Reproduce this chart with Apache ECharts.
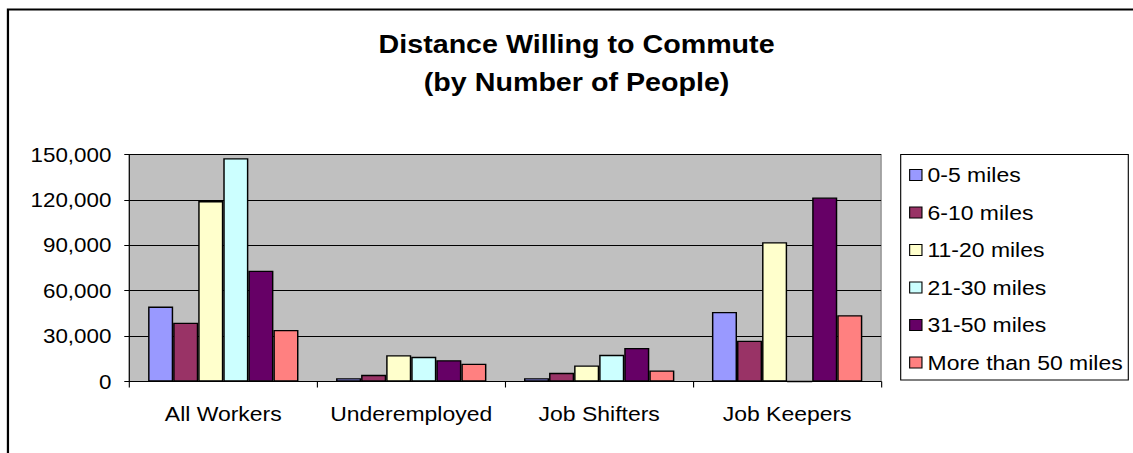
<!DOCTYPE html>
<html>
<head>
<meta charset="utf-8">
<script src="https://cdn.jsdelivr.net/npm/echarts@6/dist/echarts.min.js"></script>
<style>
  html, body { margin: 0; padding: 0; background: #fff; overflow: hidden; }
  #wrap { width: 1133px; height: 453px; overflow: hidden; }
  /* the chart is laid out on a narrower canvas and widened, giving the wide lettering */
  #chart { width: 1012px; height: 453px; transform: scaleX(1.11957); transform-origin: 0 0; }
</style>
</head>
<body>
<div id="wrap"><div id="chart"></div></div>
<script>
// Commuting distance people would accept, by worker group
const categories = ['All Workers', 'Underemployed', 'Job Shifters', 'Job Keepers'];
const seriesNames = ['0-5 miles', '6-10 miles', '11-20 miles', '21-30 miles', '31-50 miles', 'More than 50 miles'];
const miles0to5   = [49500, 2200, 2200, 46000];
const miles6to10  = [38900, 4400, 5700, 27000];
const miles11to20 = [119200, 17400, 10600, 92000];
const miles21to30 = [147600, 16300, 17600, 0];
const miles31to50 = [73200, 14100, 22200, 121600];
const milesOver50 = [34100, 11700, 7300, 43800];
const yTicks = [0, 30000, 60000, 90000, 120000, 150000];
const colors = ['#9999FF', '#993366', '#FFFFCC', '#CCFFFF', '#660066', '#FF8080'];

const values = [miles0to5, miles6to10, miles11to20, miles21to30, miles31to50, milesOver50];
const FONT = '"Liberation Sans", Arial, sans-serif';

const chart = echarts.init(document.getElementById('chart'), null, { renderer: 'svg' });

chart.setOption({
  animation: false,
  backgroundColor: '#fff',
  color: colors,
  title: {
    text: 'Distance Willing to Commute\n(by Number of People)',
    left: 515,
    top: 25,
    padding: 0,
    textAlign: 'center',
    textStyle: { fontFamily: FONT, fontSize: 25.6, fontWeight: 'bold', color: '#000', lineHeight: 38 }
  },
  graphic: [
    {
      type: 'rect', z: -1, silent: true,
      shape: { x: 7.1, y: 9.5, width: 1100, height: 500 },
      style: { fill: 'none', stroke: '#000', lineWidth: 2 }
    },
    {
      type: 'rect', z: 1, silent: true,
      shape: { x: 804.5, y: 154.5, width: 203.3, height: 225.5 },
      style: { fill: '#fff', stroke: '#000', lineWidth: 1 }
    }
  ],
  legend: {
    orient: 'vertical',
    left: 812,
    top: 164.5,
    padding: 0,
    z: 5,
    itemWidth: 11,
    itemHeight: 11,
    itemGap: 16.5,
    icon: 'rect',
    itemStyle: { borderColor: '#000', borderWidth: 1 },
    textStyle: { fontFamily: FONT, fontSize: 20.5, color: '#000', lineHeight: 20 },
    data: seriesNames
  },
  grid: {
    left: 115.5, top: 154.5, width: 671.5, height: 227,
    show: true, backgroundColor: '#C0C0C0', borderColor: '#808080', borderWidth: 1
  },
  xAxis: {
    type: 'category',
    data: categories,
    axisLine: { lineStyle: { color: '#000', width: 1 } },
    axisTick: { show: true, length: 6, lineStyle: { color: '#000' } },
    axisLabel: { interval: 0, margin: 22, fontFamily: FONT, fontSize: 20.5, color: '#000' },
    splitLine: { show: false }
  },
  yAxis: {
    type: 'value',
    min: yTicks[0],
    max: yTicks[yTicks.length - 1],
    interval: yTicks[1] - yTicks[0],
    axisLine: { show: true, lineStyle: { color: '#000', width: 1 } },
    axisTick: { show: true, length: 4.5, lineStyle: { color: '#000' } },
    axisLabel: {
      margin: 16, fontFamily: FONT, fontSize: 20, color: '#000',
      formatter: v => v.toLocaleString('en-US')
    },
    splitLine: { show: true, lineStyle: { color: '#000', width: 1 } }
  },
  series: seriesNames.map((name, i) => ({
    name,
    type: 'bar',
    data: values[i],
    barGap: '0%',
    barCategoryGap: '20%',
    itemStyle: { color: colors[i], borderColor: '#000', borderWidth: 1.3 }
  }))
});
</script>
</body>
</html>
